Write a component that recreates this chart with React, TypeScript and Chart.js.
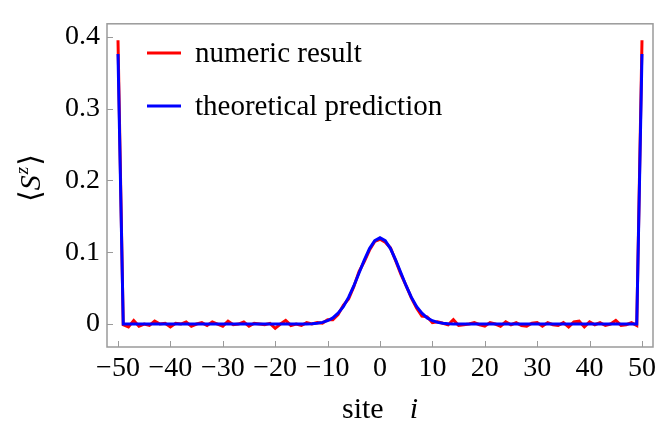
import React, { useEffect, useRef } from 'react';
import { Chart, registerables } from 'chart.js';
Chart.register(...registerables);

const sites = [
  -50, -49, -48, -47, -46, -45, -44, -43, -42, -41, -40, -39, -38, -37, -36, -35, -34, -33, -32, -31,
  -30, -29, -28, -27, -26, -25, -24, -23, -22, -21, -20, -19, -18, -17, -16, -15, -14, -13, -12, -11,
  -10, -9, -8, -7, -6, -5, -4, -3, -2, -1, 0, 1, 2, 3, 4, 5, 6, 7, 8, 9,
  10, 11, 12, 13, 14, 15, 16, 17, 18, 19, 20, 21, 22, 23, 24, 25, 26, 27, 28, 29,
  30, 31, 32, 33, 34, 35, 36, 37, 38, 39, 40, 41, 42, 43, 44, 45, 46, 47, 48, 49, 50,
];

const numericResult = [
  0.395, -0.001, -0.004, 0.005, -0.003, 0.0, -0.002, 0.004, 0.0, 0.001,
  -0.004, 0.001, 0.0, 0.003, -0.003, 0.0, 0.002, -0.002, 0.003, 0.0,
  -0.003, 0.004, -0.001, 0.0, 0.003, -0.003, 0.001, 0.0, -0.001, 0.001,
  -0.006, 0.0, 0.005, -0.002, 0.0, -0.002, 0.002, 0.0, 0.002, 0.001,
  0.006, 0.006, 0.013, 0.026, 0.035, 0.052, 0.073, 0.087, 0.103, 0.115,
  0.118,
  0.114, 0.106, 0.088, 0.069, 0.053, 0.036, 0.022, 0.011, 0.01, 0.002,
  0.003, 0.001, -0.001, 0.006, -0.002, -0.001, 0.0, 0.002, -0.001, -0.003,
  0.002, 0.0, -0.003, 0.003, -0.001, 0.002, -0.002, -0.003, 0.001, 0.002,
  -0.003, 0.002, -0.001, -0.002, 0.002, -0.004, 0.003, 0.004, -0.004, 0.003,
  -0.001, 0.002, -0.002, 0.0, 0.005, -0.002, -0.001, 0.002, -0.002, 0.395,
];

const theoreticalPrediction = [
  0.376, 0, 0, 0, 0, 0, 0, 0, 0, 0,
  0, 0, 0, 0, 0, 0, 0, 0, 0, 0,
  0, 0, 0, 0, 0, 0, 0, 0, 0, 0,
  0, 0, 0, 0, 0, 0, 0, 0.0004, 0.001, 0.0023,
  0.0046, 0.0085, 0.015, 0.024, 0.037, 0.053, 0.071, 0.089, 0.105, 0.116,
  0.12,
  0.116, 0.105, 0.089, 0.071, 0.053, 0.037, 0.024, 0.015, 0.0085, 0.0046,
  0.0023, 0.001, 0.0004, 0, 0, 0, 0, 0, 0, 0,
  0, 0, 0, 0, 0, 0, 0, 0, 0, 0,
  0, 0, 0, 0, 0, 0, 0, 0, 0, 0,
  0, 0, 0, 0, 0, 0, 0, 0, 0, 0.376,
];

const xTicks = [-50, -40, -30, -20, -10, 0, 10, 20, 30, 40, 50];
const yTicks = [0, 0.1, 0.2, 0.3, 0.4];
const seriesLabels = ['numeric result', 'theoretical prediction'];
const xTitle = ['site', 'i'];
const yTitle = ['\u27E8', 'S', 'z', '\u27E9'];

const FONT = "'Liberation Serif', 'DejaVu Serif', serif";
const FRAME = '#9a9a9a';

const decorPlugin = {
  id: 'decor',
  afterDatasetsDraw(chart: any) {
    const ctx = chart.ctx as CanvasRenderingContext2D;
    const { left, right, top, bottom } = chart.chartArea;
    const xs = chart.scales.x;
    const ys = chart.scales.y;
    ctx.save();
    // frame
    ctx.strokeStyle = FRAME;
    ctx.lineWidth = 1.5;
    ctx.strokeRect(left, top, right - left, bottom - top);
    // inward ticks
    ctx.lineWidth = 1;
    ctx.beginPath();
    for (const v of xTicks) {
      const px = Math.round(xs.getPixelForValue(v)) + 0.5;
      ctx.moveTo(px, bottom);
      ctx.lineTo(px, bottom - 6);
    }
    for (const v of yTicks) {
      const py = Math.round(ys.getPixelForValue(v)) + 0.5;
      ctx.moveTo(left, py);
      ctx.lineTo(left + 6, py);
    }
    ctx.stroke();

    // legend
    const colors = ['#ff0000', '#0000ff'];
    const ly = [53, 106];
    ctx.font = `29px ${FONT}`;
    ctx.textBaseline = 'middle';
    ctx.fillStyle = '#000';
    for (let i = 0; i < 2; i++) {
      ctx.strokeStyle = colors[i];
      ctx.lineWidth = 3;
      ctx.beginPath();
      ctx.moveTo(147, ly[i]);
      ctx.lineTo(181, ly[i]);
      ctx.stroke();
      ctx.fillText(seriesLabels[i], 195, ly[i] + 1);
    }

    // x title
    ctx.textBaseline = 'alphabetic';
    ctx.font = `30px ${FONT}`;
    const w1 = ctx.measureText(xTitle[0]).width;
    ctx.font = `italic 30px ${FONT}`;
    const w2 = ctx.measureText(xTitle[1]).width;
    const gap = 26;
    const total = w1 + gap + w2;
    const cx = (left + right) / 2;
    const sx = cx - total / 2;
    ctx.font = `30px ${FONT}`;
    ctx.fillText(xTitle[0], sx, 418);
    ctx.font = `italic 30px ${FONT}`;
    ctx.fillText(xTitle[1], sx + w1 + gap, 418);

    // y title (rotated)
    ctx.save();
    ctx.translate(40, 178);
    ctx.rotate(-Math.PI / 2);
    const f1 = `30px ${FONT}`;
    const f2 = `italic 30px ${FONT}`;
    const f3 = `italic 19px ${FONT}`;
    ctx.font = f1; const a = ctx.measureText(yTitle[0]).width;
    ctx.font = f2; const b = ctx.measureText(yTitle[1]).width;
    ctx.font = f3; const c = ctx.measureText(yTitle[2]).width;
    ctx.font = f1; const d = ctx.measureText(yTitle[3]).width;
    let tx = -(a + b + c + d + 2) / 2;
    ctx.font = f1; ctx.fillText(yTitle[0], tx, 0); tx += a;
    ctx.font = f2; ctx.fillText(yTitle[1], tx, 0); tx += b + 1;
    ctx.font = f3; ctx.fillText(yTitle[2], tx, -12); tx += c + 1;
    ctx.font = f1; ctx.fillText(yTitle[3], tx, 0);
    ctx.restore();

    ctx.restore();
  },
};

export default function App() {
  const ref = useRef<HTMLCanvasElement>(null);
  useEffect(() => {
    if (!ref.current) return;
    const chart = new Chart(ref.current, {
      type: 'scatter',
      data: {
        datasets: [
          {
            label: seriesLabels[0],
            data: sites.map((s, i) => ({ x: s, y: numericResult[i] })),
            showLine: true,
            borderColor: '#ff0000',
            borderWidth: 3,
            pointRadius: 0,
            tension: 0,
            order: 2,
          },
          {
            label: seriesLabels[1],
            data: sites.map((s, i) => ({ x: s, y: theoreticalPrediction[i] })),
            showLine: true,
            borderColor: '#0000ff',
            borderWidth: 3,
            pointRadius: 0,
            tension: 0,
            order: 1,
          },
        ],
      },
      options: {
        animation: false,
        responsive: true,
        maintainAspectRatio: false,
        layout: { padding: { left: 0, right: 15, top: 8, bottom: 0 } },
        plugins: { legend: { display: false }, tooltip: { enabled: false } },
        scales: {
          x: {
            type: 'linear',
            min: -52.1,
            max: 52.1,
            grid: { display: false, drawTicks: false },
            border: { display: false },
            afterBuildTicks: (s: any) => { s.ticks = xTicks.map((v) => ({ value: v })); },
            afterFit: (s: any) => { s.height = 88; },
            ticks: {
              color: '#000',
              font: { family: FONT, size: 28 },
              padding: 5,
              maxRotation: 0,
              autoSkip: false,
              callback: (v: any) => (Number(v) < 0 ? '\u2212' + Math.abs(Number(v)) : String(v)),
            },
          },
          y: {
            type: 'linear',
            min: -0.032,
            max: 0.418,
            grid: { display: false, drawTicks: false },
            border: { display: false },
            afterBuildTicks: (s: any) => { s.ticks = yTicks.map((v) => ({ value: v })); },
            afterFit: (s: any) => { s.width = 107; },
            ticks: {
              color: '#000',
              font: { family: FONT, size: 28 },
              padding: 7,
              autoSkip: false,
              callback: (v: any) => (Number(v) === 0 ? '0' : Number(v).toFixed(1)),
            },
          },
        },
      },
      plugins: [decorPlugin],
    });
    return () => chart.destroy();
  }, []);
  return (
    <div style={{ position: 'fixed', left: 0, top: 0, width: 668, height: 435, background: '#fff' }}>
      <canvas ref={ref} />
    </div>
  );
}
